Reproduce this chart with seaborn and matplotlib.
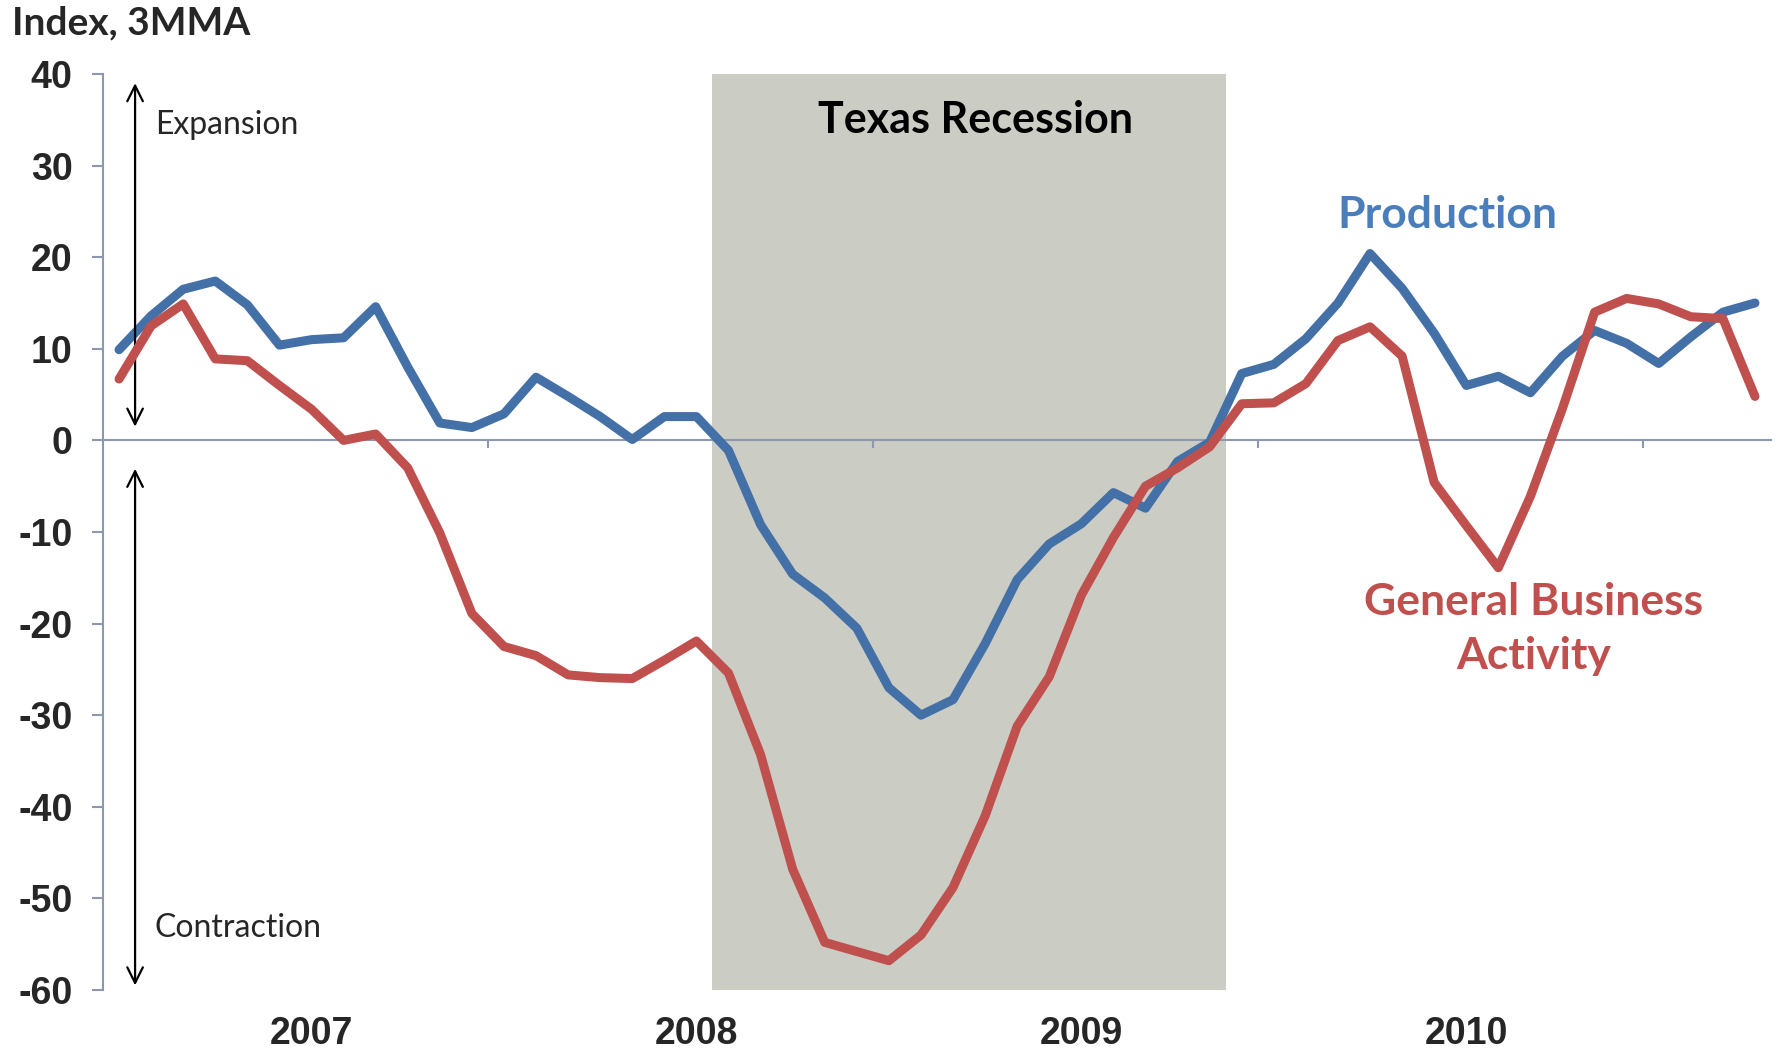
import numpy as np
import pandas as pd
import matplotlib
matplotlib.use('Agg')
import matplotlib.pyplot as plt
import matplotlib.transforms as mtransforms
import seaborn as sns

# monthly values, Jan 2007 - Apr 2011 (3-month moving average)
months = pd.date_range('2007-01-01', periods=52, freq='MS')
production = [9.9, 13.6, 16.5, 17.4, 14.8, 10.4, 11.0, 11.2, 14.6, 8.0, 1.9, 1.4,
              2.9, 6.9, 4.8, 2.6, 0.1, 2.6, 2.6, -1.1, -9.2, -14.6, -17.2, -20.5,
              -27.0, -30.0, -28.3, -22.2, -15.2, -11.3, -9.1, -5.7, -7.4, -2.3, -0.2, 7.3,
              8.3, 11.1, 15.0, 20.4, 16.6, 11.7, 6.0, 7.0, 5.2, 9.2, 12.0, 10.6,
              8.4, 11.3, 14.0, 15.0]
general_business = [6.7, 12.5, 14.9, 8.9, 8.7, 6.0, 3.4, 0.0, 0.7, -3.0, -10.1, -18.9,
                    -22.5, -23.5, -25.6, -25.9, -26.0, -24.0, -21.9, -25.4, -34.3, -46.8, -54.8, -55.8,
                    -56.8, -54.0, -48.8, -41.0, -31.2, -25.8, -16.9, -10.6, -5.0, -3.0, -0.7, 4.0,
                    4.1, 6.2, 10.9, 12.4, 9.2, -4.6, -9.3, -13.9, -6.1, 3.5, 14.0, 15.5,
                    14.9, 13.5, 13.3, 4.8]
years = ['2007', '2008', '2009', '2010']
recession_start = '2008-08-01'
recession_end = '2009-11-01'

df = pd.DataFrame({'month': months, 'Production': production,
                   'General Business Activity': general_business})
df['idx'] = np.arange(len(df))
rec_lo = df.loc[df.month == recession_start, 'idx'].iloc[0] - 0.5
rec_hi = df.loc[df.month == recession_end, 'idx'].iloc[0] + 0.5

sns.set_style('white')
plt.rcParams['font.family'] = ['Lato', 'DejaVu Sans']

blue = '#4470A8'
red = '#C0504D'
axis_col = '#8C97B0'

fig = plt.figure(figsize=(17.78, 10.59), dpi=100)
ax = fig.add_axes([103/1778, 1 - 990/1059, (1771 - 103)/1778, (990 - 74)/1059])

ax.axvspan(rec_lo, rec_hi, color='#CBCCC4', zorder=0, lw=0)

sns.lineplot(data=df, x='idx', y='Production', color=blue, lw=6.5, ax=ax,
             solid_capstyle='round', solid_joinstyle='round', zorder=3)
sns.lineplot(data=df, x='idx', y='General Business Activity', color=red, lw=6.5, ax=ax,
             solid_capstyle='round', solid_joinstyle='round', zorder=4)

ax.set_xlim(-0.5, len(df) - 0.5)
ax.set_ylim(-60, 40)
ax.set_xlabel('')
ax.set_ylabel('')

# axes styling
for s in ['top', 'right']:
    ax.spines[s].set_visible(False)
ax.spines['bottom'].set_position(('data', 0))
ax.spines['bottom'].set_color(axis_col)
ax.spines['left'].set_color(axis_col)
ax.spines['bottom'].set_linewidth(1.5)
ax.spines['left'].set_linewidth(1.5)

ax.set_yticks(np.arange(-60, 41, 10))
ax.set_yticklabels([str(v) for v in range(-60, 41, 10)],
                   fontfamily='Liberation Sans', fontweight='bold', fontsize=27)
ax.tick_params(axis='y', left=True, direction='out', length=8, width=1.5,
               color=axis_col, pad=14)

ax.set_xticks([11.5, 23.5, 35.5, 47.5])
ax.set_xticklabels([])
ax.tick_params(axis='x', bottom=True, direction='out', length=6, width=1.5, color=axis_col)

# year labels under the plot
trans = mtransforms.blended_transform_factory(ax.transData, ax.transAxes)
for i, yr in enumerate(years):
    ax.text(6 + 12 * i, -0.048, yr, transform=trans, ha='center', va='center',
            fontfamily='Liberation Sans', fontweight='bold', fontsize=27)

# expansion / contraction arrows
arrow = dict(arrowstyle='<->', color='black', lw=1.6, mutation_scale=28)
ax.annotate('', xy=(0.5, 39.3), xytext=(0.5, 1.2), arrowprops=arrow)
ax.annotate('', xy=(0.5, -2.8), xytext=(0.5, -59.8), arrowprops=arrow)
ax.text(1.12, 34.4, 'Expansion', fontsize=23, va='center', ha='left')
ax.text(1.12, -53.2, 'Contraction', fontsize=23, va='center', ha='left')

# labels
ax.text((rec_lo + rec_hi) / 2 + 0.2, 35.0, 'Texas Recession', fontsize=31, fontweight='bold',
        ha='center', va='center', color='black')
ax.text(41.4, 24.6, 'Production', fontsize=32, fontweight='bold', color='#4A7EBB',
        ha='center', va='center')
ax.text(44.1, -20.6, 'General Business\nActivity', fontsize=32, fontweight='bold',
        color=red, ha='center', va='center', linespacing=1.4)

fig.text(12/1778, 1 - 23/1059, 'Index, 3MMA', fontsize=28, fontweight='bold',
         ha='left', va='center')

fig.savefig('out.png', dpi=100)
